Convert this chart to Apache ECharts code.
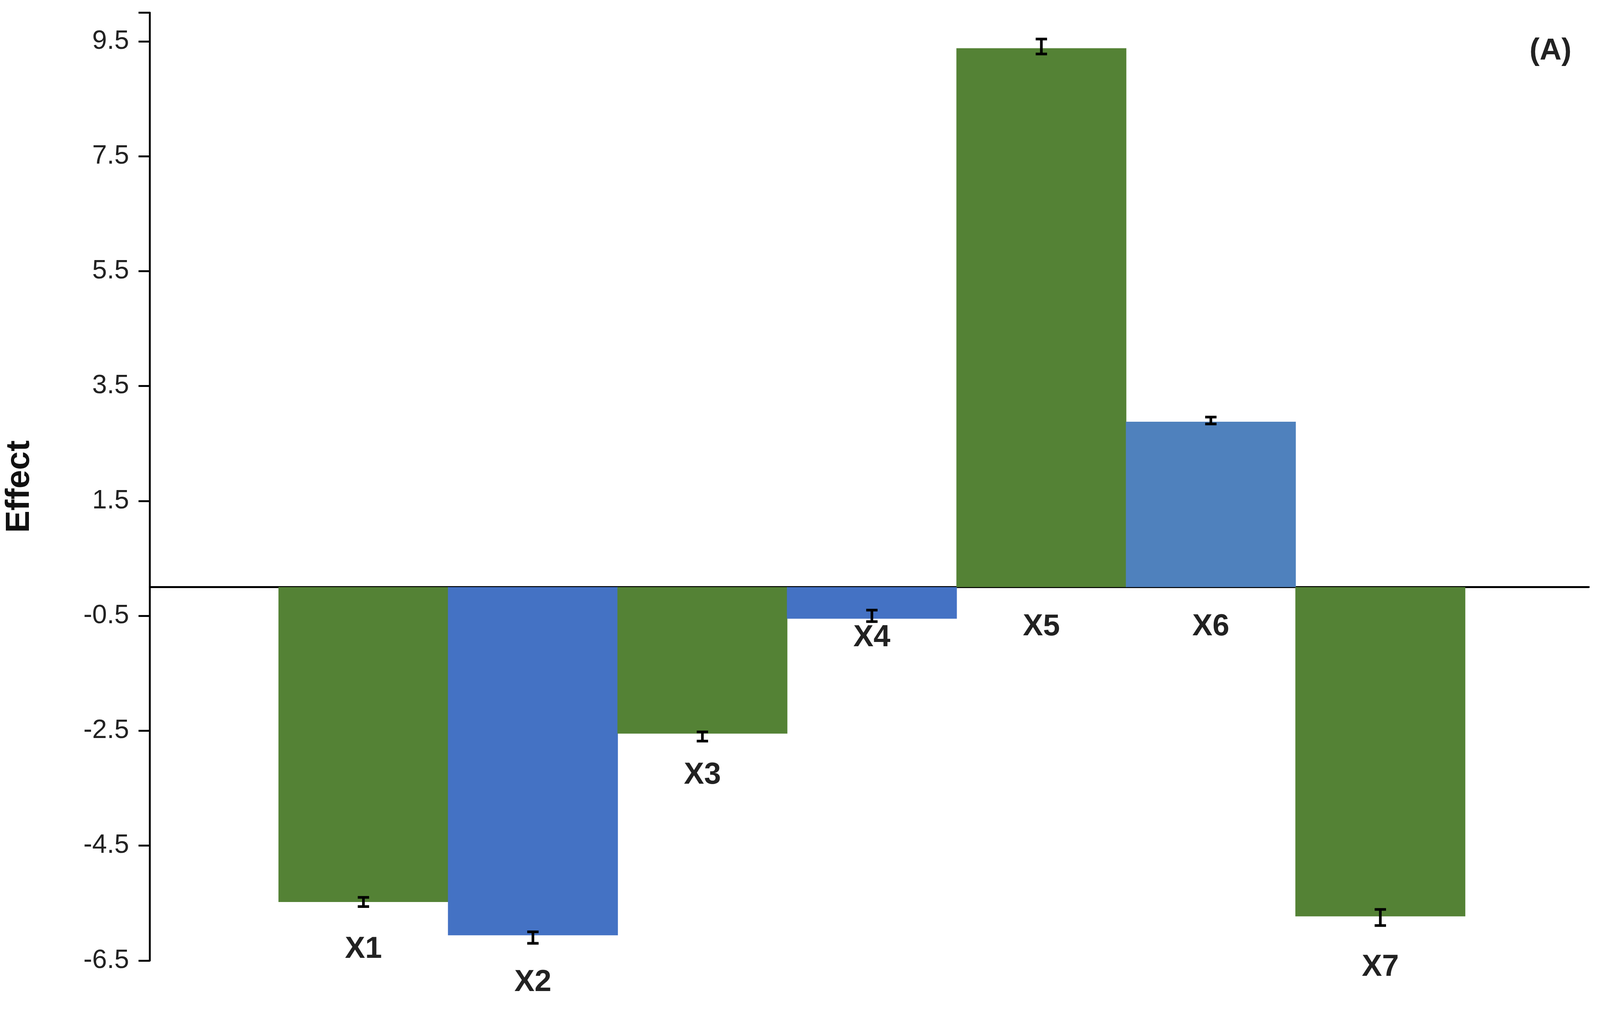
<!DOCTYPE html>
<html>
<head>
<meta charset="utf-8">
<script src="https://cdn.jsdelivr.net/npm/echarts@6/dist/echarts.min.js"></script>
<style>html,body{margin:0;background:#fff;overflow:hidden}#chart{width:100vw;height:100vh}</style>
</head>
<body>
<div id="chart"></div>
<script>
const categories = ['X1', 'X2', 'X3', 'X4', 'X5', 'X6', 'X7'];
const effects = [-5.48, -6.06, -2.55, -0.55, 9.38, 2.88, -5.73];
const errCenters = [-5.48, -6.1, -2.6, -0.5, 9.41, 2.9, -5.75];
const errSizes = [0.08, 0.1, 0.08, 0.1, 0.13, 0.06, 0.14];
const colors = ['#548235', '#4472C4', '#548235', '#4472C4', '#548235', '#4F81BD', '#548235'];
const labelGaps = [85, 85, 70, 10, 65, 65, 95];

const chart = echarts.init(document.getElementById('chart'));
const s = chart.getWidth() / 4227;
const font = 'Liberation Sans';
chart.setOption({
  animation: false,
  grid: { left: '9.1%', right: '0.7%', top: '1.25%', bottom: '4.8%' },
  title: {
    text: '(A)', right: 70 * s, top: 90 * s,
    textStyle: { fontFamily: font, fontWeight: 'bold', fontSize: 80 * s, color: '#222' }
  },
  xAxis: {
    type: 'value', min: -0.26, max: 8.23,
    axisLine: { onZero: true, lineStyle: { color: '#000', width: 5 * s } },
    axisTick: { show: false }, axisLabel: { show: false }, splitLine: { show: false }
  },
  yAxis: {
    type: 'value', min: -6.5, max: 10, interval: 2,
    name: 'Effect', nameLocation: 'middle', nameGap: 300 * s, nameRotate: 90,
    nameTextStyle: { fontFamily: font, fontWeight: 'bold', fontSize: 88 * s, color: '#111' },
    axisLine: { show: true, onZero: false, lineStyle: { color: '#000', width: 5 * s } },
    axisTick: { show: true, length: 30 * s, lineStyle: { color: '#000', width: 5 * s } },
    axisLabel: {
      fontFamily: font, fontSize: 70 * s, color: '#222', margin: 55 * s,
      formatter: v => (Math.abs(v % 1) === 0.5 ? v.toFixed(1) : '')
    },
    splitLine: { show: false }
  },
  series: [{
    type: 'bar',
    barWidth: 449 * s,
    data: effects.map((v, i) => ({
      value: [i + 1, v],
      itemStyle: { color: colors[i] },
      label: { show: true, position: 'bottom', distance: labelGaps[i] * s, formatter: categories[i] }
    })),
    label: { fontFamily: font, fontWeight: 'bold', fontSize: 80 * s, color: '#222' }
  }, {
    type: 'custom',
    z: 10,
    data: errCenters.map((c, i) => [i + 1, c - errSizes[i], c + errSizes[i]]),
    renderItem: (params, api) => {
      const lo = api.coord([api.value(0), api.value(1)]);
      const hi = api.coord([api.value(0), api.value(2)]);
      const w = 15 * s;
      const style = { stroke: '#000', lineWidth: 7 * s };
      return {
        type: 'group', children: [
          { type: 'line', shape: { x1: lo[0], y1: lo[1], x2: hi[0], y2: hi[1] }, style },
          { type: 'line', shape: { x1: lo[0] - w, y1: lo[1], x2: lo[0] + w, y2: lo[1] }, style },
          { type: 'line', shape: { x1: hi[0] - w, y1: hi[1], x2: hi[0] + w, y2: hi[1] }, style }
        ]
      };
    }
  }]
});
</script>
</body>
</html>
